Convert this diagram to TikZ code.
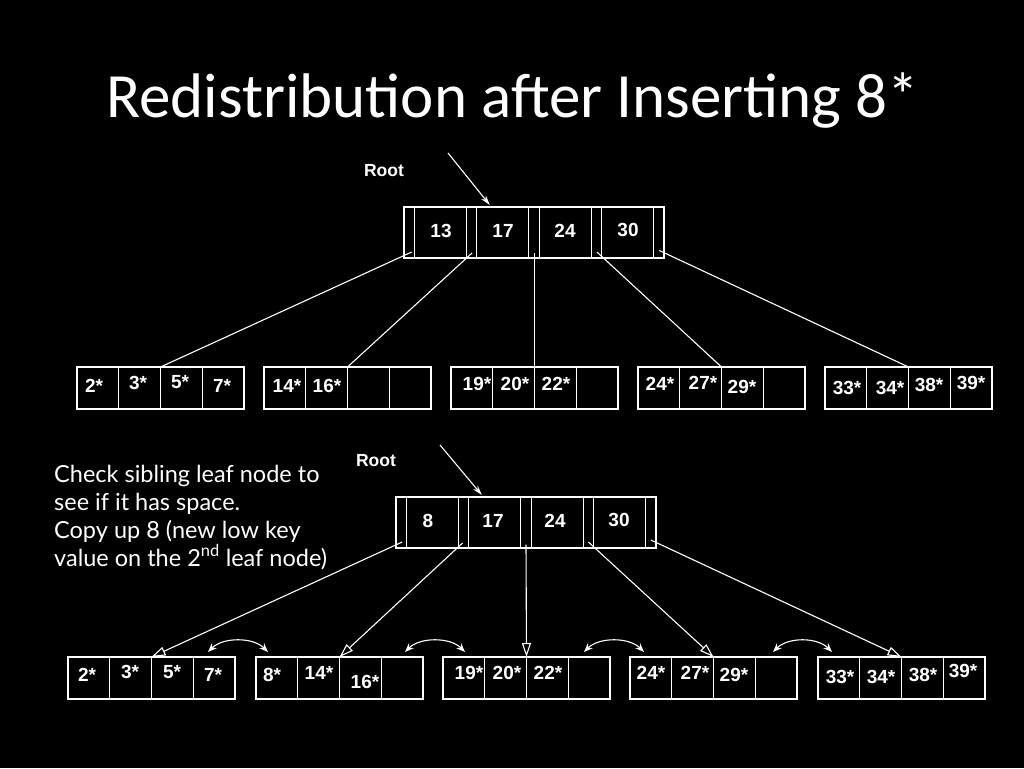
\documentclass[tikz,border=0pt]{standalone}
\usepackage{fontspec}
\newfontfamily\titlefont{Carlito}
\newfontfamily\bodyfont{Lato}
\newfontfamily\labfont{Liberation Sans}
\usetikzlibrary{arrows.meta,calc}
\begin{document}
\begin{tikzpicture}[x=1pt,y=-1pt,
  cell/.style={draw=white, line width=1.2pt, minimum width=41.75pt, minimum height=42pt, inner sep=0pt, outer sep=0pt, anchor=north west},
  rcell/.style={draw=white, line width=1.2pt, minimum height=51pt, inner sep=0pt, outer sep=0pt, anchor=north west},
  lab/.style={text=white, font=\labfont\bfseries\fontsize{19}{22}\selectfont, inner sep=0pt},
  rootlab/.style={text=white, font=\labfont\bfseries\fontsize{17.5}{20}\selectfont, inner sep=0pt, anchor=north},
  body/.style={text=white, font=\bodyfont\fontsize{23.5}{28}\selectfont, inner sep=0pt, anchor=base west},
  ptr/.style={draw=white, line width=1.1pt},
  aptr/.style={ptr, -{Triangle[open,length=14pt,width=9pt]}},
  sib/.style={draw=white, line width=1.1pt, {Stealth[length=9pt,width=7pt]}-{Stealth[length=9pt,width=7pt]}},
  rootarr/.style={ptr, -{Stealth[length=10pt,width=6pt]}}
]
\fill[black] (0,0) rectangle (1024,768);
\useasboundingbox (0,0) rectangle (1024,768);

% title
\node[text=white, font=\titlefont\fontsize{63}{70}\selectfont, inner sep=0pt, anchor=base west] (title) at (106,117) {Redistribution after Inserting 8*};

% ---------- top tree ----------
\node[rootlab] (troot) at (384,164) {Root};
\foreach \nm/\x/\w in {tp0/404/10.4pt, tk1/414.4/52pt, tp1/466.4/10.4pt, tk2/476.8/52pt, tp2/528.8/10.4pt, tk3/539.2/52pt, tp3/591.2/10.4pt, tk4/601.6/52pt, tp4/653.6/10.4pt}
  \node[rcell, minimum width=\w] (\nm) at (\x,207) {};
\foreach \nm/\x/\y/\t in {tl1/441/231/13, tl2/503/231/17, tl3/565/231/24, tl4/628/229.5/30}
  \node[lab] (\nm) at (\x,\y) {\t};

\foreach \n/\x in {A/77,B/264,C/451,D/638,E/825}
  \foreach \i in {1,...,4}
    \node[cell] (\n\i) at ({\x+(\i-1)*41.75},367) {};

\foreach \nm/\x/\y/\t in {ta1/94/385.5/2*, ta2/138/382.5/3*, ta3/180/382.5/5*, ta4/222/386/7*,
  tb1/287/386/14*, tb2/327/386/16*,
  tc1/477/384/19*, tc2/515/384/20*, tc3/556/384/22*,
  td1/660/384/24*, td2/703/383/27*, td3/742/387/29*,
  te1/847/388/33*, te2/890/388/34*, te3/929/385/38*, te4/971/382.5/39*}
  \node[lab] (\nm) at (\x,\y) {\t};

\coordinate (tstart) at (448,153);
\draw[rootarr] (tstart) -- ($(tk2.north west)+(13,-2)$);

\draw[ptr] ($(tp0.center)+(2.5,19.5)$) -- (A3.north west);
\draw[ptr] ($(tp1.center)+(0.5,20.5)$) -- (B3.north west);
\draw[ptr] ($(tp2.center)+(0.5,20.5)$) -- (C3.north west);
\draw[ptr] ($(tp3.center)+(0.5,19.5)$) -- (D3.north west);
\draw[ptr] ($(tp4.center)+(0.5,18)$) -- (E3.north west);

% ---------- bottom tree ----------
\node[body] (txt1) at (54,482) {Check sibling leaf node to};
\node[body] (txt2) at (54,510) {see if it has space.};
\node[body] (txt3) at (54,538) {Copy up 8 (new low key};
\node[body] (txt4) at (54,566) {value on the 2\textsuperscript{nd} leaf node)};

\node[rootlab] (broot) at (376,454) {Root};
\foreach \nm/\x/\w in {bp0/396/10.4pt, bk1/406.4/52pt, bp1/458.4/10.4pt, bk2/468.8/52pt, bp2/520.8/10.4pt, bk3/531.2/52pt, bp3/583.2/10.4pt, bk4/593.6/52pt, bp4/645.6/10.4pt}
  \node[rcell, minimum width=\w] (\nm) at (\x,497) {};
\foreach \nm/\x/\y/\t in {bl1/428/521/8, bl2/493/521/17, bl3/555/521/24, bl4/619/519.5/30}
  \node[lab] (\nm) at (\x,\y) {\t};

\foreach \n/\x in {a/68,b/256,c/443,d/630,e/818}
  \foreach \i in {1,...,4}
    \node[cell] (\n\i) at ({\x+(\i-1)*41.75},657) {};

\foreach \nm/\x/\y/\t in {ba1/87/675/2*, ba2/130/672/3*, ba3/172/672/5*, ba4/213/675/7*,
  bb1/272/675/8*, bb2/319/673/14*, bb3/365/682/16*,
  bc1/469/673/19*, bc2/507/673/20*, bc3/548/673/22*,
  bd1/651/673/24*, bd2/695/673/27*, bd3/734/675/29*,
  be1/840/677/33*, be2/881/677/34*, be3/923/675/38*, be4/963/671/39*}
  \node[lab] (\nm) at (\x,\y) {\t};

\coordinate (bstart) at (440,445);
\draw[rootarr] (bstart) -- ($(bk2.north west)+(13,-2)$);

\draw[aptr] ($(bp0.center)+(1,19.5)$) -- (a3.north west);
\draw[aptr] ($(bp1.center)+(-1,20.5)$) -- (b3.north west);
\draw[aptr] ($(bp2.center)+(0,22)$) -- (c3.north west);
\draw[aptr] ($(bp3.center)+(0,19.5)$) -- (d3.north west);
\draw[aptr] ($(bp4.center)+(0,17.5)$) -- (e3.north west);

% sibling pointers
\coordinate (sibL1) at ($(a4.north east)+(-27,-5)$);
\coordinate (sibR1) at ($(b1.north west)+(12,-5)$);
\coordinate (sibL2) at ($(b4.north east)+(-18,-5)$);
\coordinate (sibR2) at ($(c1.north west)+(22,-5)$);
\coordinate (sibL3) at ($(c4.north east)+(-26,-5)$);
\coordinate (sibR3) at ($(d1.north west)+(14,-5)$);
\coordinate (sibL4) at ($(d4.north east)+(-24,-5)$);
\coordinate (sibR4) at ($(e1.north west)+(14,-5)$);
\foreach \k in {1,2,3,4}
  \draw[sib] (sibL\k) .. controls ($(sibL\k)+(15,-15)$) and ($(sibR\k)+(-15,-15)$) .. (sibR\k);
\end{tikzpicture}
\end{document}
